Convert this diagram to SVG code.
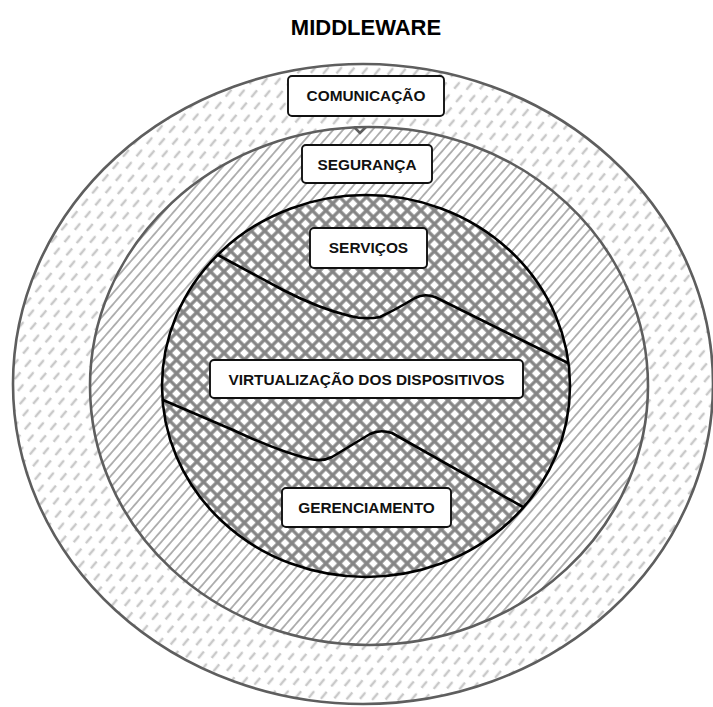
<svg xmlns="http://www.w3.org/2000/svg" width="713" height="707" viewBox="0 0 713 707">
  <defs>
    <pattern id="dashHatch" patternUnits="userSpaceOnUse" width="16" height="20" patternTransform="rotate(-50)">
      <line x1="0" y1="5" x2="7.5" y2="5" stroke="#c9c9c9" stroke-width="2.3" stroke-linecap="round"/>
      <line x1="8" y1="15" x2="15.5" y2="15" stroke="#c9c9c9" stroke-width="2.3" stroke-linecap="round"/>
    </pattern>
    <pattern id="lineHatch" patternUnits="userSpaceOnUse" width="10" height="7.4" patternTransform="rotate(-49)">
      <line x1="0" y1="3.7" x2="10" y2="3.7" stroke="#aeaeae" stroke-width="1.9"/>
    </pattern>
    <pattern id="crossHatch" patternUnits="userSpaceOnUse" width="9.6" height="9.6" patternTransform="rotate(-45)">
      <line x1="0" y1="4.8" x2="9.6" y2="4.8" stroke="#858585" stroke-width="3.3"/>
      <line x1="4.8" y1="0" x2="4.8" y2="9.6" stroke="#858585" stroke-width="3.3"/>
    </pattern>
    <style>
      .box { fill: #ffffff; stroke: #111111; stroke-width: 1.9; }
      .lbl { font-family: "Liberation Sans", Arial, sans-serif; font-weight: bold; font-size: 15.4px; fill: #111111; text-anchor: middle; }
      .title { font-family: "Liberation Sans", Arial, sans-serif; font-weight: bold; font-size: 22px; fill: #000000; text-anchor: middle; }
      .ringEdge { fill: none; stroke: #5e5e5e; stroke-width: 2.6; }
      .innerEdge { fill: none; stroke: #000000; stroke-width: 2.6; }
      .divider { fill: none; stroke: #000000; stroke-width: 2.6; stroke-linejoin: round; stroke-linecap: round; }
    </style>
  </defs>

  <g id="title">
    <text class="title" x="366" y="35">MIDDLEWARE</text>
  </g>

  <g id="layers">
    <ellipse cx="363" cy="384" rx="350" ry="320" fill="#ffffff"/>
    <ellipse cx="363" cy="384" rx="350" ry="320" fill="url(#dashHatch)"/>
    <ellipse cx="369" cy="386" rx="279" ry="259" fill="#ffffff"/>
    <ellipse cx="369" cy="386" rx="279" ry="259" fill="url(#lineHatch)"/>
    <ellipse cx="366" cy="386" rx="204" ry="191" fill="#ffffff"/>
    <ellipse cx="366" cy="386" rx="204" ry="191" fill="url(#crossHatch)"/>
    <ellipse class="ringEdge" cx="363" cy="384" rx="350" ry="320"/>
    <ellipse class="ringEdge" cx="369" cy="386" rx="279" ry="259"/>
    <path class="ringEdge" d="M354,127 L360,133 L366,127" stroke-width="1.6"/>
    <ellipse class="innerEdge" cx="366" cy="386" rx="204" ry="191"/>
  </g>

  <g id="dividers">
    <path class="divider" d="M218,255 L283,290 Q320,309 350,316 Q365,320 380,317 Q395,310 415,298 Q424,293 435,297 L568,363"/>
    <path class="divider" d="M163,400 L233,430 Q280,452 310,459 Q322,462 332,457 Q355,443 370,434 Q380,429 392,433 L523,507"/>
  </g>

  <g id="node-comunicacao">
    <rect class="box" x="288" y="76" width="156" height="40" rx="4"/>
    <text class="lbl" x="366" y="101">COMUNICAÇÃO</text>
  </g>
  <g id="node-seguranca">
    <rect class="box" x="302" y="145" width="130" height="38" rx="4"/>
    <text class="lbl" x="367" y="170">SEGURANÇA</text>
  </g>
  <g id="node-servicos">
    <rect class="box" x="310" y="228" width="117" height="40" rx="4"/>
    <text class="lbl" x="368.5" y="253">SERVIÇOS</text>
  </g>
  <g id="node-virtualizacao">
    <rect class="box" x="210" y="360" width="313" height="38" rx="4"/>
    <text class="lbl" x="366.5" y="384.5">VIRTUALIZAÇÃO DOS DISPOSITIVOS</text>
  </g>
  <g id="node-gerenciamento">
    <rect class="box" x="282" y="488" width="169" height="39" rx="4"/>
    <text class="lbl" x="366.5" y="512.5">GERENCIAMENTO</text>
  </g>
</svg>
